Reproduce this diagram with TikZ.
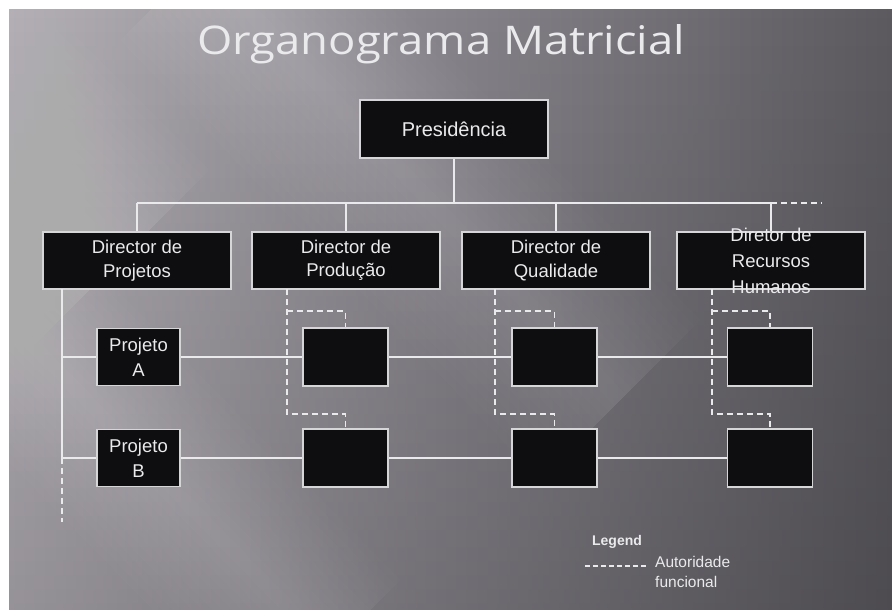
\documentclass[tikz,border=0pt]{standalone}
\usepackage{fontspec}
\setmainfont{Liberation Sans}
\newfontfamily\titlefont{Open Sans}
\usetikzlibrary{calc,fadings}

\definecolor{bgLight}{HTML}{B3AFB5}
\definecolor{bgMid}{HTML}{86838A}
\definecolor{bgDark}{HTML}{5C5A5F}
\definecolor{boxFill}{HTML}{0E0D10}
\definecolor{boxEdge}{HTML}{D6D5D8}
\definecolor{inkLight}{HTML}{EAE9EC}

\tikzset{
  orgbox/.style={draw=boxEdge, fill=boxFill, line width=1.6pt, inner sep=0pt,
    text=inkLight, align=center, font=\fontsize{18.5}{23.5}\selectfont},
  dirbox/.style={orgbox, minimum width=188pt, minimum height=57pt},
  projbox/.style={orgbox, minimum width=83pt, minimum height=57pt,
    font=\fontsize{18.5}{25}\selectfont},
  cellbox/.style={orgbox, minimum width=85pt, minimum height=58pt},
  labeltext/.style={text=inkLight, align=center, inner sep=0pt,
    font=\fontsize{18.5}{26}\selectfont},
  link/.style={draw=inkLight, line width=1.6pt},
  funclink/.style={draw=inkLight, line width=1.6pt, dash pattern=on 6pt off 4pt},
  legendtext/.style={text=inkLight, inner sep=0pt, align=left,
    font=\fontsize{15.5}{20}\selectfont},
}

% soft diagonal light band: start point, end point, half width
\newcommand\lightband[5]{%
  \foreach \i in {1,...,14}{%
    \pgfmathsetmacro\w{#5*\i/14}
    \fill[white, opacity=0.011] ($(#1,#2)+(\w,-\w)$) -- ($(#3,#4)+(\w,-\w)$)
      -- ($(#3,#4)+(-\w,\w)$) -- ($(#1,#2)+(-\w,\w)$) -- cycle;
  }%
}

\begin{document}
\begin{tikzpicture}[x=1pt,y=-1pt]
  % page and slide background
  \useasboundingbox (0,0) rectangle (892,610);
  \fill[white] (0,0) rectangle (892,610);
  \shade[left color=bgLight, right color=bgDark, middle color=bgMid]
    (9,10) rectangle (892,610);
  \fill[black, opacity=0.16, path fading=north] (9,10) rectangle (892,610);
  \begin{scope}
    \clip (9,10) rectangle (892,610);
    \lightband{200}{-40}{620}{400}{80}
    \lightband{-60}{250}{330}{650}{70}
    \lightband{-80}{60}{120}{260}{90}
  \end{scope}

  % title
  \node[anchor=base west, inner sep=0pt, text=inkLight] (title) at (197,55)
    {\resizebox{488pt}{30pt}{\titlefont\fontsize{38}{40}\selectfont Organograma Matricial}};

  % hierarchy boxes
  \node[orgbox, minimum width=188pt, minimum height=58pt,
    font=\fontsize{20}{24}\selectfont] (pres) at (454,129) {Presidência};
  \node[dirbox] (dproj) at (137,260.5) {Director de\\Projetos};
  \node[dirbox] (dprod) at (346,260.5) {Director de\\Produção};
  \node[dirbox] (dqual) at (556,260.5) {Director de\\Qualidade};
  \node[dirbox] (drh)   at (771,260.5) {};
  \node[labeltext] (drhlabel) at (771,261) {Diretor de\\Recursos\\Humanos};

  % project rows and matrix cells
  \node[projbox] (pa) at (138.5,357) {Projeto\\A};
  \node[projbox] (pb) at (138.5,458) {Projeto\\B};
  \node[cellbox] (a1) at (345.5,357) {};
  \node[cellbox] (a2) at (554.5,357) {};
  \node[cellbox] (a3) at (770,357) {};
  \node[cellbox] (b1) at (345.5,458) {};
  \node[cellbox] (b2) at (554.5,458) {};
  \node[cellbox] (b3) at (770,458) {};

  % top bus
  \coordinate (busL) at (137,203);
  \coordinate (busR) at (771,203);
  \coordinate (busE) at (822,203);
  \draw[link] (pres.south) -- (pres.south |- busL);
  \draw[link] (busL) -- (busR);
  \draw[funclink] (busR) -- (busE);
  \draw[link] (dproj.north) -- (dproj.north |- busL);
  \draw[link] (dprod.north) -- (dprod.north |- busL);
  \draw[link] (dqual.north) -- (dqual.north |- busL);
  \draw[link] (drh.north) -- (drh.north |- busL);

  % project spine and rows
  \coordinate (spT) at (62,289);
  \coordinate (spB) at (62,458);
  \coordinate (spE) at (62,522);
  \draw[link] (spT) -- (spB);
  \draw[funclink] (spB) -- (spE);
  \draw[link] (spT |- pa) -- (pa.west);
  \draw[link] (pa.east) -- (a1.west);
  \draw[link] (a1.east) -- (a2.west);
  \draw[link] (a2.east) -- (a3.west);
  \draw[link] (spB) -- (pb.west);
  \draw[link] (pb.east) -- (b1.west);
  \draw[link] (b1.east) -- (b2.west);
  \draw[link] (b2.east) -- (b3.west);

  % functional authority (dashed) from each functional director
  \foreach \d/\ca/\cb/\xo in {dprod/a1/b1/287, dqual/a2/b2/495, drh/a3/b3/712}{
    \coordinate (\d top) at (\xo,289);
    \coordinate (\d upper) at (\xo,311);
    \coordinate (\d lower) at (\xo,414);
    \draw[funclink] (\d top) -- (\d lower) -- (\d lower -| \cb.north) -- (\cb.north);
    \draw[funclink] (\d upper) -- (\d upper -| \ca.north) -- (\ca.north);
  }

  % legend
  \node[legendtext, font=\bfseries\fontsize{14}{16}\selectfont] (legend) at (617,542) {Legend};
  \coordinate (legL) at (585,566);
  \coordinate (legR) at (647,566);
  \draw[funclink, line width=1.2pt, dash pattern=on 5pt off 3pt] (legL) -- (legR);
  \node[legendtext, anchor=north west] (legtext) at (655,556) {Autoridade\\funcional};
\end{tikzpicture}
\end{document}
